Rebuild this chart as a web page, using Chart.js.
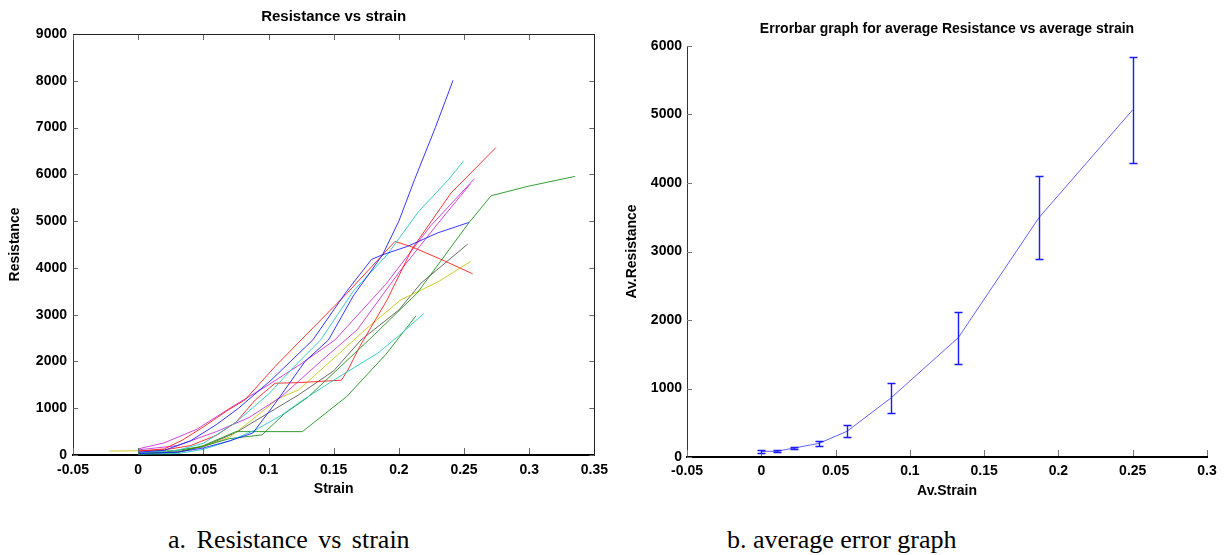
<!DOCTYPE html>
<html><head><meta charset="utf-8">
<script src="https://cdn.jsdelivr.net/npm/chart.js@4.4.0/dist/chart.umd.min.js"></script>
<style>
html,body{margin:0;padding:0;background:#fff;width:1230px;height:555px;overflow:hidden;}
#wrapA{position:absolute;left:0;top:0;width:615px;height:510px;}
#wrapB{position:absolute;left:615px;top:0;width:615px;height:510px;}
.cap{position:absolute;font-family:'Liberation Serif','Times New Roman',serif;font-size:26px;color:#000;white-space:nowrap;line-height:26px;}
</style></head><body>
<div id="wrapA"><canvas id="cA" width="615" height="510"></canvas></div>
<div id="wrapB"><canvas id="cB" width="615" height="510"></canvas></div>
<div class="cap" id="capA" style="left:168px;top:527px;word-spacing:4px;">a. Resistance vs strain</div>
<div class="cap" id="capB" style="left:727px;top:527px;">b. average error graph</div>
<script>
// ---------- Left chart: Resistance vs strain (strain, resistance) ----------
const blueA   = [[0,30],[0.03,60],[0.05,150],[0.07,300],[0.088,470],[0.105,1100],[0.128,2000],[0.146,2460],[0.165,3400],[0.1875,4280],[0.2,5000],[0.212,5885],[0.228,7000],[0.2416,8010]];
const blueB   = [[0,60],[0.02,100],[0.04,300],[0.06,650],[0.077,1000],[0.102,1600],[0.134,2460],[0.16,3500],[0.179,4180],[0.186,4265],[0.2066,4460],[0.23,4750],[0.2536,4970]];
const cyanA   = [[0,50],[0.03,100],[0.05,250],[0.075,700],[0.1,1300],[0.12,1900],[0.14,2460],[0.165,3500],[0.191,4280],[0.215,5200],[0.238,5885],[0.2497,6290]];
const cyanB   = [[0,20],[0.03,30],[0.05,120],[0.07,300],[0.09,535],[0.11,850],[0.125,1150],[0.15,1600],[0.184,2180],[0.2,2550],[0.219,3020]];
const redA    = [[0,80],[0.02,130],[0.034,320],[0.05,600],[0.069,960],[0.082,1180],[0.105,1890],[0.125,2460],[0.16,3450],[0.197,4565],[0.21,4450],[0.235,4150],[0.2566,3873]];
const redB    = [[0,90],[0.02,110],[0.04,200],[0.06,420],[0.075,700],[0.09,1180],[0.105,1534],[0.123,1547],[0.156,1600],[0.161,1820],[0.17,2320],[0.191,3317],[0.21,4400],[0.24,5600],[0.2744,6570]];
const greenA  = [[0,30],[0.02,60],[0.049,180],[0.07,350],[0.095,430],[0.1125,890],[0.13,1230],[0.177,2460],[0.214,3460],[0.2536,4960],[0.2708,5543],[0.3,5750],[0.335,5955]];
const greenB  = [[0,20],[0.03,50],[0.05,200],[0.075,500],[0.126,500],[0.16,1250],[0.19,2150],[0.213,2970]];
const magentaA= [[0,130],[0.02,260],[0.045,550],[0.072,1030],[0.1,1500],[0.125,1950],[0.151,2460],[0.19,3650],[0.224,4886],[0.258,5906]];
const magentaB= [[0,110],[0.03,200],[0.06,500],[0.085,800],[0.11,1250],[0.14,2000],[0.168,2675],[0.2,3900],[0.23,4950],[0.255,5800]];
const yellowA = [[-0.022,85],[0,90],[0.03,100],[0.05,180],[0.07,380],[0.085,700],[0.107,1200],[0.123,1391],[0.153,2140],[0.175,2700],[0.2015,3317],[0.23,3700],[0.255,4137]];
const grayA   = [[0,50],[0.03,70],[0.05,180],[0.075,480],[0.1,900],[0.123,1284],[0.15,1800],[0.171,2460],[0.2,3100],[0.217,3674],[0.2528,4508]];

const leftXTicks  = [-0.05,0,0.05,0.1,0.15,0.2,0.25,0.3,0.35];
const leftXLabels = ['-0.05','0','0.05','0.1','0.15','0.2','0.25','0.3','0.35'];
const leftYTicks  = [0,1000,2000,3000,4000,5000,6000,7000,8000,9000];
const leftYLabels = ['0','1000','2000','3000','4000','5000','6000','7000','8000','9000'];

// ---------- Right chart: average resistance with error bars ----------
const avStrain = [0, 0.0106, 0.0222, 0.0388, 0.0577, 0.0873, 0.1326, 0.1869, 0.2499];
const avRes    = [80, 85, 131, 199, 375, 862, 1742, 3494, 5066];
const resErr   = [18, 10, 19, 34, 88, 214, 380, 605, 770];

const rightXTicks  = [-0.05,0,0.05,0.1,0.15,0.2,0.25,0.3];
const rightXLabels = ['-0.05','0','0.05','0.1','0.15','0.2','0.25','0.3'];
const rightYTicks  = [0,1000,2000,3000,4000,5000,6000];
const rightYLabels = ['0','1000','2000','3000','4000','5000','6000'];

// ---------- styles ----------
const leftSeries = [
  [blueA,'rgba(20,20,255,0.85)'], [blueB,'rgba(20,20,255,0.85)'],
  [cyanA,'rgba(40,200,200,0.9)'], [cyanB,'rgba(40,200,200,0.9)'],
  [greenA,'rgba(20,140,20,0.85)'], [greenB,'rgba(20,140,20,0.85)'],
  [redA,'rgba(255,20,20,0.85)'], [redB,'rgba(255,20,20,0.85)'],
  [magentaA,'rgba(200,40,210,0.85)'], [magentaB,'rgba(200,40,210,0.85)'],
  [yellowA,'rgba(200,200,20,0.9)'], [grayA,'rgba(80,80,80,0.85)']
];
const ERRBAR_COLOR = '#1a1aff';
const ERRBAR_CAP = 4;

const FONT = "'Liberation Sans', Arial, Helvetica, sans-serif";
Chart.defaults.font.family = FONT;
Chart.defaults.font.size = 14;
Chart.defaults.font.weight = 'bold';
Chart.defaults.color = '#000';

function makeFrame(box, len, tickColor) {
  return {
    id: 'frame',
    afterDatasetsDraw(chart) {
      const {ctx, chartArea: {left, right, top, bottom}, scales: {x, y}} = chart;
      ctx.save();
      ctx.lineWidth = 1;
      ctx.strokeStyle = tickColor;
      ctx.beginPath();
      x.ticks.forEach(t => {
        const px = Math.round(x.getPixelForValue(t.value)) + 0.5;
        ctx.moveTo(px, bottom - 1); ctx.lineTo(px, bottom - 1 - len);
        if (box) { ctx.moveTo(px, top); ctx.lineTo(px, top + len); }
      });
      y.ticks.forEach(t => {
        const py = Math.round(y.getPixelForValue(t.value)) + 0.5;
        ctx.moveTo(left, py); ctx.lineTo(left + len - 1, py);
        if (box) { ctx.moveTo(right, py); ctx.lineTo(right - len + 1, py); }
      });
      ctx.stroke();
      if (box) {
        ctx.strokeStyle = '#222';
        ctx.beginPath();
        ctx.moveTo(left, Math.round(top) + 0.5); ctx.lineTo(right, Math.round(top) + 0.5);
        ctx.moveTo(Math.round(right) + 0.5, top); ctx.lineTo(Math.round(right) + 0.5, bottom);
        ctx.stroke();
      }
      ctx.restore();
    }
  };
}

const errorBarPlugin = {
  id: 'errbars',
  afterDatasetsDraw(chart) {
    const {ctx, scales: {x, y}} = chart;
    ctx.save();
    ctx.strokeStyle = ERRBAR_COLOR;
    ctx.lineWidth = 1.4;
    avStrain.forEach((s, i) => {
      const px = Math.round(x.getPixelForValue(s)) + 0.5;
      const yt = Math.round(y.getPixelForValue(avRes[i] + resErr[i])) + 0.5;
      const yb = Math.round(y.getPixelForValue(avRes[i] - resErr[i])) + 0.5;
      ctx.beginPath();
      ctx.moveTo(px, yt); ctx.lineTo(px, yb);
      ctx.moveTo(px - ERRBAR_CAP, yt); ctx.lineTo(px + ERRBAR_CAP, yt);
      ctx.moveTo(px - ERRBAR_CAP, yb); ctx.lineTo(px + ERRBAR_CAP, yb);
      ctx.stroke();
    });
    ctx.restore();
  }
};

function setTicks(arr) { return s => { s.ticks = arr.map(v => ({value: v})); }; }

new Chart(document.getElementById('cA'), {
  type: 'line',
  data: {
    datasets: leftSeries.map(([pts, col]) => ({
      data: pts.map(([sx, r]) => ({x: sx, y: r})),
      borderColor: col, borderWidth: 1, pointRadius: 0, fill: false, tension: 0
    }))
  },
  options: {
    responsive: false, animation: false,
    layout: {padding: {left: 0, right: 17, top: 0, bottom: 0}},
    plugins: {
      legend: {display: false}, tooltip: {enabled: false},
      title: {display: true, text: 'Resistance vs strain', fullSize: false, color: '#000',
              font: {size: 15, weight: 'bold'}, padding: {top: 7.5, bottom: 8.5}}
    },
    scales: {
      x: {
        type: 'linear', min: -0.05, max: 0.35,
        afterBuildTicks: setTicks(leftXTicks),
        afterFit: s => { s.height = 55; },
        ticks: {padding: 7, maxRotation: 0, autoSkip: false, color: '#000',
                callback: (v, i) => leftXLabels[i]},
        grid: {display: false, drawTicks: false},
        border: {display: true, color: '#000', width: 2},
        title: {display: true, text: 'Strain', color: '#000', font: {size: 14, weight: 'bold'},
                padding: {top: 0, bottom: 12.6}}
      },
      y: {
        type: 'linear', min: 0, max: 9000,
        afterBuildTicks: setTicks(leftYTicks),
        afterFit: s => { s.width = 73; },
        ticks: {padding: 6, autoSkip: false, color: '#000', callback: (v, i) => leftYLabels[i]},
        grid: {display: false, drawTicks: false},
        border: {display: true, color: '#333', width: 1},
        title: {display: true, text: 'Resistance', color: '#000', font: {size: 14, weight: 'bold'},
                padding: {top: 7, bottom: 0}}
      }
    }
  },
  plugins: [makeFrame(true, 6, '#666')]
});

new Chart(document.getElementById('cB'), {
  type: 'line',
  data: {
    datasets: [{
      data: avStrain.map((s, i) => ({x: s, y: avRes[i]})),
      borderColor: 'rgba(70,70,255,0.85)', borderWidth: 1, pointRadius: 0, fill: false, tension: 0
    }]
  },
  options: {
    responsive: false, animation: false,
    layout: {padding: {left: 0, right: 23, top: 0, bottom: 0}},
    plugins: {
      legend: {display: false}, tooltip: {enabled: false},
      title: {display: true, text: 'Errorbar graph for average Resistance vs average strain', fullSize: false,
              color: '#000', font: {size: 14, weight: 'bold'}, padding: {top: 20.6, bottom: 8.6}}
    },
    scales: {
      x: {
        type: 'linear', min: -0.05, max: 0.3,
        afterBuildTicks: setTicks(rightXTicks),
        afterFit: s => { s.height = 53; },
        ticks: {padding: 6, maxRotation: 0, autoSkip: false, color: '#000',
                callback: (v, i) => rightXLabels[i]},
        grid: {display: false, drawTicks: false},
        border: {display: true, color: '#000', width: 2},
        title: {display: true, text: 'Av.Strain', color: '#000', font: {size: 14, weight: 'bold'},
                padding: {top: 0, bottom: 10.6}}
      },
      y: {
        type: 'linear', min: 0, max: 6000,
        afterBuildTicks: setTicks(rightYTicks),
        afterFit: s => { s.width = 72; },
        ticks: {padding: 5, autoSkip: false, color: '#000', callback: (v, i) => rightYLabels[i]},
        grid: {display: false, drawTicks: false},
        border: {display: true, color: '#333', width: 1},
        title: {display: true, text: 'Av.Resistance', color: '#000', font: {size: 14, weight: 'bold'},
                padding: {top: 8.6, bottom: 0}}
      }
    }
  },
  plugins: [makeFrame(false, 6, '#777'), errorBarPlugin]
});
</script>
</body></html>
